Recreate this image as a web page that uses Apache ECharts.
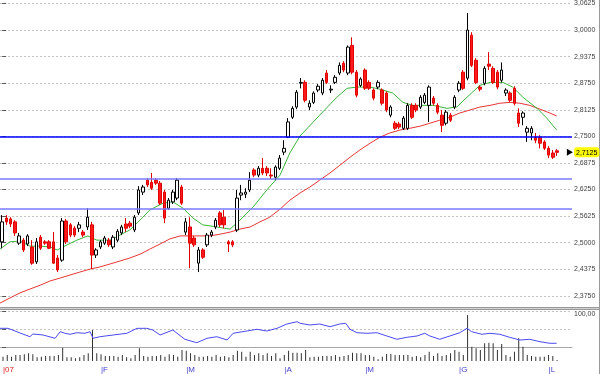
<!DOCTYPE html>
<html><head><meta charset="utf-8">
<script src="https://cdn.jsdelivr.net/npm/echarts@6/dist/echarts.min.js"></script>
<style>html,body{margin:0;padding:0;background:#fff}#c{width:600px;height:374px}</style>
</head><body><div id="c"></div>
<script>
// ---- data ----
const opens=[2.502,2.558,2.556,2.549,2.499,2.506,2.497,2.490,2.455,2.513,
2.502,2.502,2.502,2.464,2.459,2.551,2.542,2.534,2.534,2.525,
2.537,2.542,2.471,2.490,2.499,2.506,2.490,2.506,2.523,2.544,
2.546,2.530,2.570,2.619,2.647,2.642,2.647,2.640,2.619,2.581,
2.596,2.605,2.631,2.525,2.537,2.511,2.452,2.483,2.495,2.518,
2.537,2.570,2.560,2.502,2.502,2.530,2.612,2.614,2.624,2.671,
2.659,2.675,2.675,2.659,2.654,2.675,2.713,2.748,2.795,2.819,
2.875,2.877,2.819,2.830,2.859,2.852,2.899,2.859,2.877,2.899,
2.922,2.899,2.964,2.901,2.870,2.906,2.877,2.859,2.866,2.859,
2.852,2.800,2.781,2.779,2.769,2.769,2.823,2.823,2.819,2.830,
2.823,2.840,2.823,2.800,2.781,2.800,2.819,2.859,2.901,2.887,
2.988,2.929,2.866,2.875,2.920,2.910,2.901,2.882,2.852,2.852,
2.863,2.805,2.795,2.760,2.758,2.748,2.748,2.737,2.722,2.711,
2.716];
const closes=[2.549,2.549,2.544,2.523,2.516,2.483,2.516,2.452,2.502,2.487,
2.499,2.487,2.452,2.436,2.551,2.502,2.518,2.518,2.542,2.518,
2.560,2.471,2.483,2.502,2.511,2.495,2.513,2.527,2.537,2.534,
2.539,2.560,2.624,2.631,2.636,2.628,2.640,2.593,2.558,2.600,
2.619,2.647,2.593,2.549,2.499,2.495,2.483,2.466,2.518,2.525,
2.553,2.542,2.542,2.497,2.495,2.605,2.617,2.619,2.647,2.659,
2.675,2.664,2.664,2.657,2.678,2.699,2.722,2.784,2.816,2.854,
2.877,2.835,2.828,2.852,2.868,2.882,2.877,2.861,2.889,2.917,
2.906,2.960,2.901,2.847,2.885,2.863,2.863,2.840,2.877,2.828,
2.812,2.819,2.769,2.772,2.793,2.823,2.795,2.812,2.842,2.847,
2.866,2.828,2.807,2.776,2.807,2.788,2.842,2.875,2.863,3.000,
2.917,2.877,2.861,2.910,2.915,2.877,2.866,2.906,2.859,2.835,
2.828,2.781,2.805,2.769,2.769,2.741,2.734,2.722,2.706,2.701,
2.7125];
const lows=[2.487,2.542,2.537,2.516,2.495,2.478,2.492,2.448,2.450,2.483,
2.495,2.485,2.450,2.431,2.455,2.497,2.513,2.513,2.525,2.513,
2.530,2.438,2.464,2.485,2.495,2.490,2.485,2.502,2.518,2.525,
2.534,2.525,2.565,2.612,2.631,2.624,2.636,2.589,2.546,2.577,
2.591,2.600,2.589,2.518,2.440,2.490,2.431,2.462,2.490,2.513,
2.532,2.537,2.534,2.478,2.490,2.525,2.600,2.605,2.619,2.654,
2.654,2.659,2.657,2.650,2.647,2.671,2.706,2.746,2.791,2.814,
2.863,2.830,2.812,2.826,2.854,2.847,2.873,2.852,2.873,2.894,
2.901,2.894,2.896,2.842,2.866,2.859,2.859,2.835,2.861,2.823,
2.807,2.795,2.765,2.767,2.765,2.765,2.791,2.807,2.814,2.826,
2.784,2.823,2.802,2.760,2.776,2.784,2.814,2.854,2.859,2.882,
2.913,2.873,2.856,2.870,2.906,2.873,2.861,2.877,2.845,2.830,
2.823,2.772,2.776,2.737,2.741,2.734,2.722,2.718,2.699,2.697,
2.704];
const highs=[2.565,2.565,2.560,2.553,2.523,2.511,2.520,2.506,2.511,2.518,
2.506,2.506,2.525,2.471,2.558,2.556,2.546,2.539,2.549,2.530,
2.581,2.549,2.487,2.506,2.516,2.511,2.518,2.532,2.542,2.558,
2.551,2.565,2.633,2.636,2.652,2.664,2.652,2.645,2.624,2.605,
2.624,2.652,2.636,2.558,2.560,2.516,2.490,2.487,2.523,2.530,
2.558,2.574,2.577,2.506,2.506,2.624,2.636,2.628,2.666,2.675,
2.680,2.699,2.680,2.675,2.682,2.706,2.741,2.793,2.821,2.859,
2.887,2.882,2.835,2.856,2.873,2.887,2.906,2.870,2.894,2.924,
2.927,2.964,2.983,2.906,2.889,2.910,2.882,2.863,2.882,2.863,
2.856,2.823,2.786,2.784,2.798,2.828,2.828,2.828,2.847,2.852,
2.870,2.845,2.828,2.812,2.812,2.805,2.847,2.880,2.906,3.040,
2.995,2.934,2.870,2.915,2.948,2.915,2.906,2.924,2.863,2.856,
2.868,2.816,2.809,2.774,2.774,2.758,2.753,2.741,2.727,2.718,
2.720];
const volumes=[4.3,6,4.3,6,6,6.7,7.7,6.7,3.7,4.3,
5,5,5,6,13.3,3.7,3.7,2.7,3.7,6,
7.7,31,7.7,6.7,5,5,5,4.3,6,3.7,
2.7,6,12.7,5,4.3,5,5,6,4.3,6.7,
6,4.3,11,10.3,7.7,6,4.3,4.3,5,4.3,
6,4.3,5,3.7,6,10.3,9.3,4.3,9.3,6,
7.7,6,7.7,5,7.7,2.7,6,10.3,8.3,8.3,
7.7,11,3.7,4.3,4.3,5,5,5,6,4.3,
5,6,8.3,7.7,7.7,6,6,4.3,1.7,4.3,
7,7,6,6,6,6,4.3,5,3.7,6,
9.3,5,7.7,5,6,7.7,11,9.3,6,46,
14.3,12.7,11,17.7,18.3,17.7,11,17,6,4.3,
9.3,22.7,14.3,6,5,4.3,4.3,4.3,6,5,
1];
// moving averages and oscillator, read as [candle position, value]
const greenMA=[[-0.5,2.485],[1.8,2.502],[4.2,2.504],[6.5,2.492],[8.9,2.492],[11.2,2.490],[12.9,2.483],[15.2,2.495],[17.5,2.506],[20.1,2.516],[22.2,2.506],[25.3,2.506],[27.6,2.518],[29.9,2.530],[32.3,2.553],[34.6,2.577],[37.7,2.593],[40.0,2.596],[42.4,2.581],[44.7,2.558],[47.0,2.542],[50.3,2.537],[53.4,2.532],[55.7,2.553],[58.8,2.584],[62.0,2.624],[65.1,2.659],[67.4,2.711],[69.8,2.751],[74.4,2.800],[78.4,2.842],[80.8,2.863],[83.1,2.866],[86.2,2.866],[88.5,2.861],[91.5,2.852],[93.9,2.830],[96.2,2.823],[98.6,2.823],[100.9,2.823],[104.2,2.816],[106.5,2.819],[108.9,2.842],[111.9,2.870],[114.3,2.877],[117.3,2.877],[119.6,2.866],[122.0,2.842],[125.3,2.816],[127.6,2.793],[129.9,2.765]];
const redMA=[[-0.5,2.358],[1.8,2.370],[4.2,2.382],[6.5,2.391],[8.9,2.400],[11.2,2.410],[13.6,2.417],[15.9,2.424],[18.2,2.431],[20.6,2.438],[22.9,2.443],[25.3,2.450],[27.6,2.457],[29.9,2.464],[32.3,2.473],[34.6,2.485],[37.0,2.497],[39.3,2.509],[41.7,2.516],[44.0,2.516],[46.3,2.516],[48.7,2.516],[51.0,2.520],[53.4,2.525],[55.7,2.532],[58.1,2.537],[60.4,2.549],[62.7,2.560],[65.1,2.579],[67.4,2.600],[69.8,2.617],[72.1,2.631],[74.4,2.647],[76.8,2.664],[79.1,2.682],[81.5,2.701],[83.8,2.718],[86.2,2.734],[88.5,2.748],[90.8,2.758],[93.2,2.765],[95.5,2.769],[97.9,2.774],[100.2,2.781],[102.5,2.788],[104.9,2.795],[107.2,2.805],[109.6,2.812],[111.9,2.819],[114.3,2.823],[116.6,2.828],[118.9,2.830],[121.3,2.828],[123.6,2.823],[126.0,2.814],[128.3,2.805],[129.9,2.798]];
const oscillator=[[-0.5,51.9],[1.4,51.9],[4.2,38.9],[6.5,28.6],[7.2,36.1],[9.6,33.3],[12.4,24.2],[13.6,42.5],[14.7,38.1],[15.9,35.3],[17.5,39.7],[19.4,38.1],[20.6,42.5],[21.3,24.2],[22.9,28.6],[26.0,33.3],[29.2,38.1],[31.6,51.9],[33.9,51.9],[35.3,47.2],[37.0,33.3],[40.0,47.2],[42.8,21.4],[45.6,11.9],[48.0,24.2],[50.3,28.6],[52.7,19.4],[54.1,38.1],[57.3,44.4],[59.7,49.2],[62.0,44.4],[64.4,51.9],[66.7,63.9],[69.1,70.3],[69.8,65.8],[72.1,61.1],[74.4,63.9],[76.8,56.4],[79.1,63.9],[80.5,65.8],[81.5,49.2],[83.1,39.7],[85.5,38.1],[87.8,39.7],[90.1,30.6],[92.5,21.4],[94.8,26.9],[97.2,30.6],[99.0,38.1],[100.2,30.6],[102.5,21.4],[104.9,30.6],[107.2,39.7],[108.9,51.9],[110.0,42.5],[112.4,35.3],[114.3,38.1],[116.6,35.3],[118.9,26.9],[121.3,19.4],[123.6,21.4],[126.0,14.7],[128.3,10.3],[129.9,10.3]];
const levels=[2.75,2.655,2.58];
const priceTicks=[2.375,2.4375,2.5,2.5625,2.625,2.6875,2.75,2.8125,2.875,2.9375,3.0,3.0625];
const oscTicks=[0,50,100];
const monthLabels=['07','F','M','A','M','G','L'];
const monthStart=[0,23,43,66,85,107,128];
const slotCount=134;

// ---- build ----
const cats=[];for(let i=0;i<slotCount;i++)cats.push(String(i));
const ohlc=opens.map((o,i)=>[o,closes[i],lows[i],highs[i]]);
const lastClose=closes[closes.length-1];
const FONT='Liberation Sans';
const fmt=v=>Number(v).toFixed(4).replace('.',',');
const chart=echarts.init(document.getElementById('c'),null,{renderer:'canvas'});
const lvlStyle=[{color:'#0000ff',width:1.5},{color:'#7878ff',width:1.5},{color:'#7878ff',width:1.5}];
chart.setOption({
  animation:false,
  backgroundColor:'#ffffff',
  textStyle:{fontFamily:FONT},
  grid:[{left:0,right:28,top:0,height:306},{left:0,right:28,top:311,height:36},{left:0,right:28,top:311,height:50}],
  xAxis:[
    {type:'category',gridIndex:0,data:cats,axisLine:{show:false},axisTick:{show:false},axisLabel:{show:false},splitLine:{show:false}},
    {type:'value',gridIndex:0,min:-0.5,max:slotCount-0.5,show:false},
    {type:'value',gridIndex:1,min:-0.5,max:slotCount-0.5,axisLine:{show:true,lineStyle:{color:'#a8a8a8'}},axisTick:{show:false},axisLabel:{show:false},splitLine:{show:false}},
    {type:'category',gridIndex:2,data:cats,axisLine:{show:false},axisTick:{show:false},splitLine:{show:false},
      axisLabel:{interval:(i)=>monthStart.indexOf(i)>=0,align:'left',margin:5,
        formatter:(v)=>{const k=monthStart.indexOf(Number(v));if(k<0)return '';return (k===0?'{r||':'{b||')+monthLabels[k]+'}';},
        rich:{r:{color:'#e02020',fontSize:8,fontFamily:FONT},b:{color:'#4040d0',fontSize:8,fontFamily:FONT}}}}
  ],
  yAxis:[
    {type:'value',gridIndex:0,position:'right',min:2.3512,max:3.0702,scale:true,
      axisLine:{show:false},
      axisTick:{show:true,length:4,lineStyle:{color:'#555'},customValues:priceTicks},
      axisLabel:{customValues:priceTicks,formatter:fmt,fontSize:7,color:'#444',margin:2,fontFamily:FONT},
      splitLine:{show:true,lineStyle:{color:'#c4c4c4',type:[2,2]}},
      axisPointer:{show:true,type:'line',status:'show',value:lastClose,snap:false,triggerTooltip:false,
        lineStyle:{opacity:0},
        label:{show:true,formatter:(p)=>fmt(p.value),backgroundColor:'#ffff00',color:'#000',fontSize:7,padding:[2,2,1,2],margin:2,fontFamily:FONT}}},
    {type:'value',gridIndex:1,position:'right',min:0,max:100,
      axisLine:{show:false},
      axisTick:{show:true,length:4,lineStyle:{color:'#555'},customValues:oscTicks},
      axisLabel:{customValues:[100],formatter:(v)=>Number(v).toFixed(2).replace('.',','),fontSize:7,color:'#444',margin:2,fontFamily:FONT,verticalAlign:'top'},
      splitLine:{show:true,lineStyle:{color:'#c4c4c4',type:[2,2]}}},
    {type:'value',gridIndex:2,min:0,max:50,show:false}
  ],
  series:[
    {type:'line',xAxisIndex:1,yAxisIndex:0,data:redMA,showSymbol:false,lineStyle:{color:'#e83535',width:1},z:2},
    {type:'line',xAxisIndex:1,yAxisIndex:0,data:greenMA,showSymbol:false,lineStyle:{color:'#3cb43c',width:1},z:2},
    {type:'candlestick',xAxisIndex:0,yAxisIndex:0,data:ohlc,barWidth:3,z:3,
      itemStyle:{color:'#ffffff',color0:'#ff1a1a',borderColor:'#000000',borderColor0:'#e00000',borderWidth:1},
      markLine:{silent:true,symbol:'none',label:{show:false},
        data:levels.map((v,i)=>({yAxis:v,lineStyle:Object.assign({type:'solid'},lvlStyle[i])}))},
      markPoint:{silent:true,label:{show:false},
        data:[{coord:[slotCount-1,lastClose],symbol:'triangle',symbolSize:[7,6],symbolRotate:-90,itemStyle:{color:'#000'}}]}},
    {type:'line',xAxisIndex:2,yAxisIndex:1,data:oscillator,showSymbol:false,lineStyle:{color:'#4a4af0',width:1}},
    {type:'bar',xAxisIndex:3,yAxisIndex:2,data:volumes,barWidth:1,itemStyle:{color:'#333'}}
  ],
  graphic:[
    {type:'line',shape:{x1:0,y1:307.5,x2:600,y2:307.5},style:{stroke:'#999',lineWidth:1},silent:true},
    {type:'line',shape:{x1:0,y1:308.5,x2:600,y2:308.5},style:{stroke:'#d0d0d0',lineWidth:1},silent:true},
    {type:'line',shape:{x1:0,y1:309.5,x2:600,y2:309.5},style:{stroke:'#999',lineWidth:1},silent:true},
    {type:'line',shape:{x1:599.5,y1:0,x2:599.5,y2:374},style:{stroke:'#999',lineWidth:1},silent:true}
  ]
});
</script></body></html>
